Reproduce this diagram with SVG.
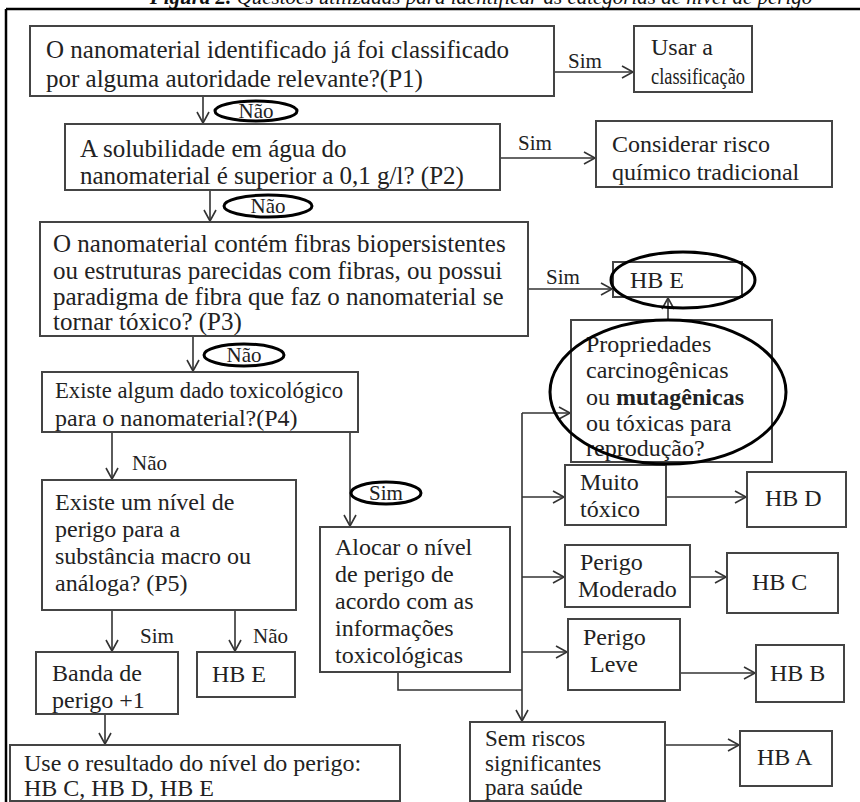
<svg xmlns="http://www.w3.org/2000/svg" width="860" height="802" viewBox="0 0 860 802">
<style>
text{font-family:"Liberation Serif","Times New Roman",serif;font-size:24px;fill:#222}
.L text{font-size:25px}
.m text{font-size:23px}
.b rect{fill:#fff;stroke:#444;stroke-width:2}
.c line,.c polyline{fill:none;stroke:#333;stroke-width:1.6}
.e{fill:none;stroke:#000;stroke-width:3}
.s{font-size:21px}
.cap{font-style:italic;font-size:21px;fill:#111}
</style>
<defs>
<marker id="a" markerUnits="userSpaceOnUse" markerWidth="16" markerHeight="16" refX="12" refY="7" orient="auto" viewBox="0 0 16 16">
<path d="M1,1 L12,7 L1,13" fill="none" stroke="#333" stroke-width="1.6"/>
</marker>
</defs>
<rect width="860" height="802" fill="#fff"/>
<text class="cap" x="481" y="4" text-anchor="middle"><tspan font-weight="bold">Figura 2.</tspan> Questões utilizadas para identificar as categorias de nível de perigo</text>
<g id="frame"><line x1="6" y1="9" x2="860" y2="9" stroke="#000" stroke-width="2.5"/><line x1="6" y1="9" x2="6" y2="802" stroke="#000" stroke-width="2.5"/></g>

<g class="c" id="connectors" marker-end="url(#a)">
<line x1="554" y1="72" x2="633" y2="72"/>
<line x1="203" y1="96" x2="203" y2="123"/>
<line x1="500" y1="158" x2="595" y2="158"/>
<line x1="210" y1="190" x2="210" y2="221"/>
<line x1="528" y1="289" x2="612" y2="289"/>
<line x1="668" y1="320" x2="668" y2="298"/>
<line x1="193" y1="336" x2="193" y2="371"/>
<line x1="112" y1="432" x2="112" y2="479"/>
<line x1="350" y1="432" x2="350" y2="526"/>
<line x1="112" y1="610" x2="112" y2="651"/>
<line x1="235" y1="610" x2="235" y2="651"/>
<line x1="105" y1="714" x2="105" y2="744"/>
<polyline points="398,672 398,690 522,690" marker-end="none"/>
<line x1="522" y1="413" x2="522" y2="721"/>
<line x1="522" y1="413" x2="570" y2="413"/>
<line x1="522" y1="497" x2="564" y2="497"/>
<line x1="522" y1="577" x2="564" y2="577"/>
<line x1="522" y1="652" x2="567" y2="652"/>
<line x1="666" y1="497" x2="746" y2="497"/>
<line x1="690" y1="577" x2="726" y2="577"/>
<line x1="680" y1="673" x2="755" y2="673"/>
<line x1="665" y1="745" x2="739" y2="745"/>
</g>

<g class="b">
<g id="p1" class="L"><rect x="30" y="26" width="524" height="70"/><text x="46" y="58">O nanomaterial identificado já foi classificado</text><text x="46" y="87">por alguma autoridade relevante?(P1)</text></g>
<g id="usar"><rect x="634" y="26" width="118" height="66"/><text x="651" y="55">Usar a</text><text x="651" y="84" textLength="94" lengthAdjust="spacingAndGlyphs">classificação</text></g>
<g id="p2" class="L"><rect x="65" y="124" width="435" height="66"/><text x="80" y="157">A solubilidade em água do</text><text x="80" y="184">nanomaterial é superior a 0,1 g/l? (P2)</text></g>
<g id="considerar"><rect x="596" y="121" width="236" height="66"/><text x="612" y="152">Considerar risco</text><text x="612" y="180">químico tradicional</text></g>
<g id="p3" class="L"><rect x="40" y="222" width="488" height="114"/><text x="53" y="252">O nanomaterial contém fibras biopersistentes</text><text x="53" y="279">ou estruturas parecidas com fibras, ou possui</text><text x="53" y="305">paradigma de fibra que faz o nanomaterial se</text><text x="53" y="330">tornar tóxico? (P3)</text></g>
<g id="hbe1"><rect x="613" y="262" width="129" height="35"/><text x="630" y="288">HB E</text></g>
<g id="prop"><rect x="571" y="320" width="201" height="142"/><text x="586" y="352">Propriedades</text><text x="586" y="378">carcinogênicas</text><text x="586" y="405">ou <tspan font-weight="bold">mutagênicas</tspan></text><text x="586" y="431">ou tóxicas para</text><text x="586" y="456">reprodução?</text></g>
<g id="p4"><rect x="42" y="372" width="316" height="60"/><text x="55" y="398" textLength="288" lengthAdjust="spacingAndGlyphs">Existe algum dado toxicológico</text><text x="55" y="426">para o nanomaterial?(P4)</text></g>
<g id="p5"><rect x="42" y="480" width="254" height="130"/><text x="55" y="510">Existe um nível de</text><text x="55" y="537">perigo para a</text><text x="55" y="564">substância macro ou</text><text x="55" y="591">análoga? (P5)</text></g>
<g id="alocar"><rect x="320" y="527" width="190" height="145"/><text x="335" y="555">Alocar o nível</text><text x="335" y="582">de perigo de</text><text x="335" y="609">acordo com as</text><text x="335" y="636">informações</text><text x="335" y="663">toxicológicas</text></g>
<g id="muito"><rect x="565" y="465" width="101" height="60"/><text x="580" y="490">Muito</text><text x="580" y="517">tóxico</text></g>
<g id="hbd"><rect x="747" y="472" width="99" height="55"/><text x="765" y="506">HB D</text></g>
<g id="moderado"><rect x="565" y="545" width="125" height="62"/><text x="580" y="570">Perigo</text><text x="578" y="597">Moderado</text></g>
<g id="hbc"><rect x="727" y="553" width="111" height="60"/><text x="752" y="590">HB C</text></g>
<g id="leve"><rect x="568" y="619" width="112" height="71"/><text x="583" y="645">Perigo</text><text x="590" y="672">Leve</text></g>
<g id="hbb"><rect x="756" y="645" width="88" height="57"/><text x="770" y="681">HB B</text></g>
<g id="banda"><rect x="36" y="652" width="142" height="62"/><text x="52" y="681">Banda de</text><text x="52" y="708">perigo +1</text></g>
<g id="hbe2"><rect x="197" y="652" width="98" height="45"/><text x="212" y="682">HB E</text></g>
<g id="sem" class="m"><rect x="470" y="722" width="195" height="79"/><text x="485" y="746">Sem riscos</text><text x="485" y="771">significantes</text><text x="485" y="795">para saúde</text></g>
<g id="hba"><rect x="740" y="731" width="92" height="55"/><text x="757" y="765">HB A</text></g>
<g id="use"><rect x="10" y="745" width="390" height="56"/><text x="24" y="771">Use o resultado do nível do perigo:</text><text x="24" y="796">HB C, HB D, HB E</text></g>
</g>

<g id="labels">
<text class="s" x="568" y="68">Sim</text>
<text class="s" x="518" y="150">Sim</text>
<text class="s" x="546" y="284">Sim</text>
<text class="s" x="132" y="470">Não</text>
<text class="s" x="140" y="643">Sim</text>
<text class="s" x="253" y="643">Não</text>
<ellipse class="e" cx="256" cy="111" rx="41" ry="10"/><text class="s" x="256" y="118" text-anchor="middle">Não</text>
<ellipse class="e" cx="268" cy="206" rx="44" ry="11"/><text class="s" x="268" y="213" text-anchor="middle">Não</text>
<ellipse class="e" cx="244" cy="355" rx="40" ry="11"/><text class="s" x="244" y="362" text-anchor="middle">Não</text>
<ellipse class="e" cx="386" cy="493" rx="35" ry="11"/><text class="s" x="386" y="500" text-anchor="middle">Sim</text>
<ellipse class="e" cx="683" cy="280" rx="72" ry="28"/>
<ellipse class="e" cx="668" cy="392" rx="118" ry="72"/>
</g>
</svg>
